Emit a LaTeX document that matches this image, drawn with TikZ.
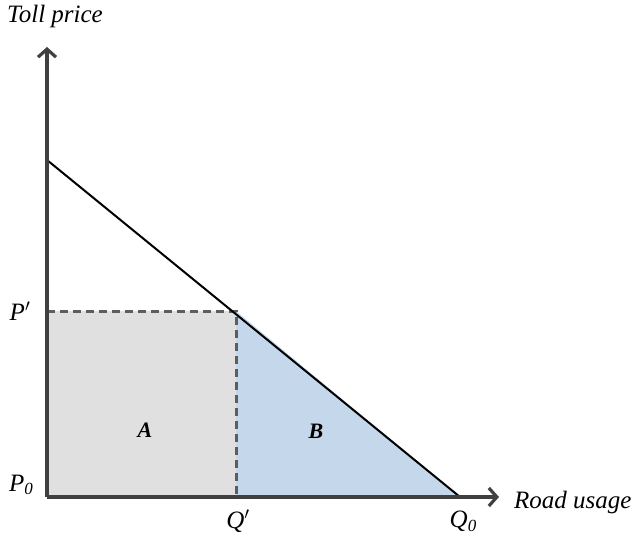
\documentclass[tikz,border=0pt]{standalone}
\usepackage{fontspec}
\setmainfont{Liberation Serif}
\usetikzlibrary{arrows.meta}
\definecolor{areaA}{HTML}{E0E0E0}
\definecolor{areaB}{HTML}{C5D7EA}
\definecolor{axisgray}{HTML}{404040}
\begin{document}
\begin{tikzpicture}[x=1pt,y=-1pt,
  axis/.style={draw=axisgray,line width=3.4pt,-{Straight Barb[length=8pt,width=18pt,line width=3.2pt]}},
  lbl/.style={font=\fontsize{25}{28}\selectfont\itshape,inner sep=0pt},
  area/.style={font=\fontsize{22}{24}\selectfont\bfseries\itshape,inner sep=0pt}]
\useasboundingbox (0,0) rectangle (634,535);
\coordinate (O) at (47,497);
\coordinate (Ytop) at (47,47);
\coordinate (Xend) at (499,497);
\coordinate (D0) at (47,160);
\coordinate (Q0) at (460,497);
\coordinate (E) at (236,311);
\coordinate (Pp) at (47,311);
\coordinate (Qp) at (236,497);
\fill[areaA] (O) rectangle (E);
\fill[areaB] (Qp) -- (E) -- (Q0) -- cycle;
\draw[axisgray!85,line width=3pt,dash pattern=on 8pt off 5pt] (Pp) -- (E) -- (Qp);
\draw[black,line width=2pt] (D0) -- (Q0);
\draw[axis] (O) -- (Ytop);
\draw[axis] (O) -- (Xend);
\node[lbl,anchor=west] (ty) at (7,16) {Toll price};
\node[lbl,anchor=west] (tx) at (514,502) {Road usage};
\node[lbl] (lp) at (20,311) {P$^{\prime}$};
\node[lbl] (lp0) at (21,485) {P\raisebox{-0.15em}{\fontsize{17}{19}\selectfont 0}};
\node[lbl] (lq) at (238,521) {Q$^{\prime}$};
\node[lbl] (lq0) at (463,521) {Q\raisebox{-0.15em}{\fontsize{17}{19}\selectfont 0}};
\node[area] (a) at (145,430) {A};
\node[area] (b) at (316,431) {B};
\end{tikzpicture}
\end{document}
